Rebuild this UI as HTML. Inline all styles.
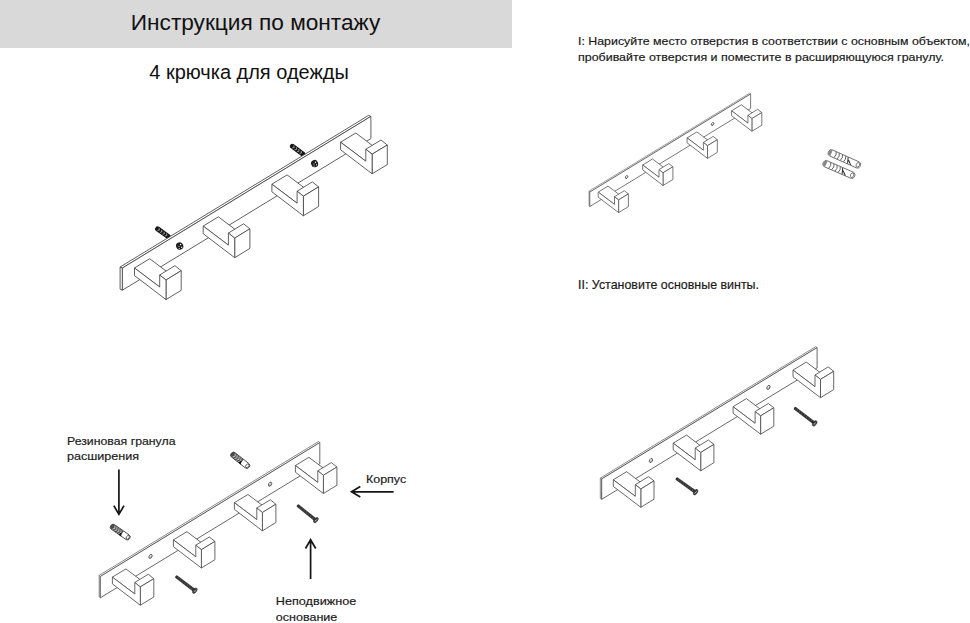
<!DOCTYPE html>
<html><head><meta charset="utf-8"><style>
html,body{margin:0;padding:0;background:#fff;width:970px;height:623px;overflow:hidden}
svg{display:block}
text{font-family:"Liberation Sans", sans-serif}
</style></head><body>
<svg width="970" height="623" viewBox="0 0 970 623">
<rect x="0" y="0" width="512" height="48" fill="#d9d9d9"/>
<text x="130.8" y="29.9" font-size="21.5" fill="#111" textLength="249.5" lengthAdjust="spacingAndGlyphs">Инструкция по монтажу</text>
<text x="149.3" y="78.7" font-size="19.3" fill="#111" textLength="199.5" lengthAdjust="spacingAndGlyphs">4 крючка для одежды</text>
<text x="578" y="45" font-size="11.0" fill="#1a1a1a" stroke="#1a1a1a" stroke-width="0.18" textLength="392" lengthAdjust="spacingAndGlyphs">I: Нарисуйте место отверстия в соответствии с основным объектом,</text>
<text x="578" y="61.2" font-size="11.0" fill="#1a1a1a" stroke="#1a1a1a" stroke-width="0.18" textLength="366" lengthAdjust="spacingAndGlyphs">пробивайте отверстия и поместите в расширяющуюся гранулу.</text>
<text x="578" y="288.6" font-size="11.9" fill="#1a1a1a" stroke="#1a1a1a" stroke-width="0.18" textLength="181" lengthAdjust="spacingAndGlyphs">II: Установите основные винты.</text>
<text x="67.0" y="444.6" font-size="11.4" fill="#1a1a1a" stroke="#1a1a1a" stroke-width="0.18" textLength="108.5" lengthAdjust="spacingAndGlyphs">Резиновая гранула</text>
<text x="67.0" y="460.4" font-size="11.4" fill="#1a1a1a" stroke="#1a1a1a" stroke-width="0.18" textLength="72.0" lengthAdjust="spacingAndGlyphs">расширения</text>
<text x="366.0" y="482.7" font-size="11.4" fill="#1a1a1a" stroke="#1a1a1a" stroke-width="0.18" textLength="40.2" lengthAdjust="spacingAndGlyphs">Корпус</text>
<text x="275.8" y="604.9" font-size="11.4" fill="#1a1a1a" stroke="#1a1a1a" stroke-width="0.18" textLength="80.5" lengthAdjust="spacingAndGlyphs">Неподвижное</text>
<text x="275.8" y="620.9" font-size="11.4" fill="#1a1a1a" stroke="#1a1a1a" stroke-width="0.18" textLength="61.5" lengthAdjust="spacingAndGlyphs">основание</text>
<path d="M118.9,469.6 L118.9,513.6 M113.8,505.6 L118.9,514.4 L124.0,505.6" stroke="#151515" stroke-width="1.7" fill="none" stroke-linecap="butt" stroke-linejoin="miter" stroke-miterlimit="6"/>
<path d="M310.6,579.0 L310.6,540.5 M315.7,548.5 L310.6,539.7 L305.5,548.5" stroke="#151515" stroke-width="1.7" fill="none" stroke-linecap="butt" stroke-linejoin="miter" stroke-miterlimit="6"/>
<path d="M393.6,491.8 L352.3,491.8 M360.3,486.6 L351.5,491.8 L360.3,496.9" stroke="#151515" stroke-width="1.7" fill="none" stroke-linecap="butt" stroke-linejoin="miter" stroke-miterlimit="6"/>
<g transform="translate(155.6,227.4) rotate(36.0)"><rect x="0" y="-2.5" width="18.0" height="5.0" rx="2.5" fill="#151515"/><path d="M3.2,-1.5 l1.5,1.5 l-1.5,1.5" stroke="#d8d8d8" stroke-width="0.6" fill="none"/><path d="M6.3,-1.5 l1.5,1.5 l-1.5,1.5" stroke="#d8d8d8" stroke-width="0.6" fill="none"/><path d="M9.4,-1.5 l1.5,1.5 l-1.5,1.5" stroke="#d8d8d8" stroke-width="0.6" fill="none"/><path d="M12.4,-1.5 l1.5,1.5 l-1.5,1.5" stroke="#d8d8d8" stroke-width="0.6" fill="none"/></g>
<g transform="translate(290.4,144.8) rotate(36.4)"><rect x="0" y="-2.5" width="17.9" height="5.0" rx="2.5" fill="#151515"/><path d="M3.2,-1.5 l1.5,1.5 l-1.5,1.5" stroke="#d8d8d8" stroke-width="0.6" fill="none"/><path d="M6.3,-1.5 l1.5,1.5 l-1.5,1.5" stroke="#d8d8d8" stroke-width="0.6" fill="none"/><path d="M9.3,-1.5 l1.5,1.5 l-1.5,1.5" stroke="#d8d8d8" stroke-width="0.6" fill="none"/><path d="M12.3,-1.5 l1.5,1.5 l-1.5,1.5" stroke="#d8d8d8" stroke-width="0.6" fill="none"/></g>
<polygon points="120.1,267.0 368.6,115.4 370.9,116.4 122.4,268.0" fill="#fff" stroke="#444" stroke-width="0.85" stroke-linejoin="round" />
<polygon points="120.1,267.0 122.4,268.0 122.4,290.2 120.1,289.2" fill="#fff" stroke="#444" stroke-width="0.85" stroke-linejoin="round" />
<polygon points="122.4,268.0 370.9,116.4 370.9,138.6 122.4,290.2" fill="#fff" stroke="#444" stroke-width="0.85" stroke-linejoin="round" />
<ellipse cx="179.7" cy="246.0" rx="3.60" ry="3.78" fill="#1c1c1c" transform="rotate(-20 179.7 246.0)"/><circle cx="180.60" cy="244.56" r="0.70" fill="#fff"/><circle cx="181.68" cy="247.26" r="0.65" fill="#fff"/><circle cx="178.98" cy="246.36" r="0.55" fill="#fff"/><circle cx="179.16" cy="248.52" r="0.50" fill="#fff"/>
<ellipse cx="314.6" cy="163.6" rx="3.50" ry="3.68" fill="#1c1c1c" transform="rotate(-20 314.6 163.6)"/><circle cx="315.48" cy="162.20" r="0.70" fill="#fff"/><circle cx="316.53" cy="164.82" r="0.65" fill="#fff"/><circle cx="313.90" cy="163.95" r="0.55" fill="#fff"/><circle cx="314.08" cy="166.05" r="0.50" fill="#fff"/>
<polygon points="134.5,268.0 149.7,258.7 174.9,277.7 159.7,287.0" fill="#fff" stroke="#444" stroke-width="0.85" stroke-linejoin="round" />
<polygon points="159.7,275.0 174.9,265.7 181.2,270.7 166.0,280.0" fill="#fff" stroke="#444" stroke-width="0.85" stroke-linejoin="round" />
<polygon points="166.0,280.0 181.2,270.7 181.2,290.3 166.0,299.6" fill="#fff" stroke="#444" stroke-width="0.85" stroke-linejoin="round" />
<polygon points="134.5,268.0 159.7,287.0 159.7,275.0 166.0,280.0 166.0,299.6 134.5,275.6" fill="#fff" stroke="#444" stroke-width="0.85" stroke-linejoin="round" />
<polygon points="203.2,226.1 218.4,216.8 243.6,235.8 228.4,245.1" fill="#fff" stroke="#444" stroke-width="0.85" stroke-linejoin="round" />
<polygon points="228.4,233.1 243.6,223.8 249.9,228.8 234.7,238.1" fill="#fff" stroke="#444" stroke-width="0.85" stroke-linejoin="round" />
<polygon points="234.7,238.1 249.9,228.8 249.9,248.4 234.7,257.7" fill="#fff" stroke="#444" stroke-width="0.85" stroke-linejoin="round" />
<polygon points="203.2,226.1 228.4,245.1 228.4,233.1 234.7,238.1 234.7,257.7 203.2,233.7" fill="#fff" stroke="#444" stroke-width="0.85" stroke-linejoin="round" />
<polygon points="271.9,184.2 287.1,174.9 312.3,193.9 297.1,203.2" fill="#fff" stroke="#444" stroke-width="0.85" stroke-linejoin="round" />
<polygon points="297.1,191.2 312.3,181.9 318.6,186.9 303.4,196.2" fill="#fff" stroke="#444" stroke-width="0.85" stroke-linejoin="round" />
<polygon points="303.4,196.2 318.6,186.9 318.6,206.5 303.4,215.8" fill="#fff" stroke="#444" stroke-width="0.85" stroke-linejoin="round" />
<polygon points="271.9,184.2 297.1,203.2 297.1,191.2 303.4,196.2 303.4,215.8 271.9,191.8" fill="#fff" stroke="#444" stroke-width="0.85" stroke-linejoin="round" />
<polygon points="340.6,142.2 355.8,133.0 381.0,152.0 365.8,161.2" fill="#fff" stroke="#444" stroke-width="0.85" stroke-linejoin="round" />
<polygon points="365.8,149.2 381.0,140.0 387.3,145.0 372.1,154.2" fill="#fff" stroke="#444" stroke-width="0.85" stroke-linejoin="round" />
<polygon points="372.1,154.2 387.3,145.0 387.3,164.6 372.1,173.8" fill="#fff" stroke="#444" stroke-width="0.85" stroke-linejoin="round" />
<polygon points="340.6,142.2 365.8,161.2 365.8,149.2 372.1,154.2 372.1,173.8 340.6,149.8" fill="#fff" stroke="#444" stroke-width="0.85" stroke-linejoin="round" />
<polygon points="589.0,191.1 749.8,93.1 750.6,94.0 589.8,192.1" fill="#fff" stroke="#888" stroke-width="0.80" stroke-linejoin="round" />
<polygon points="589.0,191.1 589.8,192.1 589.8,206.5 589.0,205.5" fill="#fff" stroke="#888" stroke-width="0.80" stroke-linejoin="round" />
<polygon points="589.8,192.1 750.6,94.0 750.6,108.4 589.8,206.5" fill="#fff" stroke="#555" stroke-width="0.80" stroke-linejoin="round" />
<g transform="rotate(-60 626.6 177.1)"><ellipse cx="626.6" cy="177.1" rx="1.6" ry="1.0" fill="#bbb" stroke="#444" stroke-width="0.8"/><ellipse cx="626.9" cy="176.8" rx="0.8" ry="0.5" fill="#f4f4f4"/></g>
<g transform="rotate(-60 712.6 124.0)"><ellipse cx="712.6" cy="124.0" rx="1.6" ry="1.0" fill="#bbb" stroke="#444" stroke-width="0.8"/><ellipse cx="712.9" cy="123.7" rx="0.8" ry="0.5" fill="#f4f4f4"/></g>
<polygon points="598.2,192.1 608.0,186.1 624.3,198.4 614.5,204.4" fill="#fff" stroke="#555" stroke-width="0.80" stroke-linejoin="round" />
<polygon points="614.5,196.7 624.3,190.7 628.4,193.9 618.6,199.9" fill="#fff" stroke="#555" stroke-width="0.80" stroke-linejoin="round" />
<polygon points="618.6,199.9 628.4,193.9 628.4,206.6 618.6,212.6" fill="#fff" stroke="#555" stroke-width="0.80" stroke-linejoin="round" />
<polygon points="598.2,192.1 614.5,204.4 614.5,196.7 618.6,199.9 618.6,212.6 598.2,197.1" fill="#fff" stroke="#555" stroke-width="0.80" stroke-linejoin="round" />
<polygon points="642.7,165.0 652.5,159.0 668.8,171.3 659.0,177.3" fill="#fff" stroke="#555" stroke-width="0.80" stroke-linejoin="round" />
<polygon points="659.0,169.6 668.8,163.6 672.9,166.8 663.0,172.8" fill="#fff" stroke="#555" stroke-width="0.80" stroke-linejoin="round" />
<polygon points="663.0,172.8 672.9,166.8 672.9,179.5 663.0,185.5" fill="#fff" stroke="#555" stroke-width="0.80" stroke-linejoin="round" />
<polygon points="642.7,165.0 659.0,177.3 659.0,169.6 663.0,172.8 663.0,185.5 642.7,169.9" fill="#fff" stroke="#555" stroke-width="0.80" stroke-linejoin="round" />
<polygon points="687.1,137.9 696.9,131.9 713.2,144.2 703.4,150.2" fill="#fff" stroke="#555" stroke-width="0.80" stroke-linejoin="round" />
<polygon points="703.4,142.4 713.2,136.4 717.3,139.7 707.5,145.7" fill="#fff" stroke="#555" stroke-width="0.80" stroke-linejoin="round" />
<polygon points="707.5,145.7 717.3,139.7 717.3,152.4 707.5,158.4" fill="#fff" stroke="#555" stroke-width="0.80" stroke-linejoin="round" />
<polygon points="687.1,137.9 703.4,150.2 703.4,142.4 707.5,145.7 707.5,158.4 687.1,142.8" fill="#fff" stroke="#555" stroke-width="0.80" stroke-linejoin="round" />
<polygon points="731.6,110.8 741.4,104.8 757.7,117.1 747.9,123.1" fill="#fff" stroke="#555" stroke-width="0.80" stroke-linejoin="round" />
<polygon points="747.9,115.3 757.7,109.3 761.8,112.6 751.9,118.6" fill="#fff" stroke="#555" stroke-width="0.80" stroke-linejoin="round" />
<polygon points="751.9,118.6 761.8,112.6 761.8,125.3 751.9,131.2" fill="#fff" stroke="#555" stroke-width="0.80" stroke-linejoin="round" />
<polygon points="731.6,110.8 747.9,123.1 747.9,115.3 751.9,118.6 751.9,131.2 731.6,115.7" fill="#fff" stroke="#555" stroke-width="0.80" stroke-linejoin="round" />
<g transform="translate(828.5,151.8) rotate(24.1)"><rect x="0" y="-3.3" width="34.8" height="6.6" rx="2.8" fill="#fff" stroke="#555" stroke-width="0.75"/><path d="M3.3,-3.1 A3.3,3.1 0 0 0 3.3,3.1" fill="#888"/><path d="M7.0,-3.2 q2.0,2.6 0.3,6.3" stroke="#555" stroke-width="0.83" fill="none"/><path d="M10.4,-3.2 q2.0,2.6 0.3,6.3" stroke="#555" stroke-width="0.83" fill="none"/><path d="M13.9,-3.2 q2.0,2.6 0.3,6.3" stroke="#555" stroke-width="0.83" fill="none"/><path d="M17.4,-3.2 q2.0,2.6 0.3,6.3" stroke="#555" stroke-width="0.83" fill="none"/><path d="M20.2,-3.0 l2.0,5.9 M21.6,-0.7 l4.0,3.6" stroke="#333" stroke-width="1.05" fill="none"/><ellipse cx="32.1" cy="0" rx="1.6" ry="2.4" fill="none" stroke="#555" stroke-width="0.75"/></g>
<g transform="translate(823.3,162.7) rotate(23.5)"><rect x="0" y="-3.3" width="34.1" height="6.6" rx="2.8" fill="#fff" stroke="#555" stroke-width="0.75"/><path d="M3.3,-3.1 A3.3,3.1 0 0 0 3.3,3.1" fill="#888"/><path d="M6.8,-3.2 q2.0,2.6 0.3,6.3" stroke="#555" stroke-width="0.83" fill="none"/><path d="M10.2,-3.2 q2.0,2.6 0.3,6.3" stroke="#555" stroke-width="0.83" fill="none"/><path d="M13.7,-3.2 q2.0,2.6 0.3,6.3" stroke="#555" stroke-width="0.83" fill="none"/><path d="M17.1,-3.2 q2.0,2.6 0.3,6.3" stroke="#555" stroke-width="0.83" fill="none"/><path d="M19.8,-3.0 l2.0,5.9 M21.2,-0.7 l4.0,3.6" stroke="#333" stroke-width="1.05" fill="none"/><ellipse cx="31.4" cy="0" rx="1.6" ry="2.4" fill="none" stroke="#555" stroke-width="0.75"/></g>
<g transform="translate(231.4,453.4) rotate(38.1)"><rect x="0" y="-2.8" width="22.4" height="5.6" rx="2.5" fill="#fff" stroke="#333" stroke-width="0.8"/><path d="M2.5,-2.8 L13.4,-2.5 L13.4,2.8 L2.5,2.8 A2.8,2.8 0 0 1 2.5,-2.8 Z" fill="#4a4a4a"/><path d="M3.1,-2.1 l1.6,2.1 l-1.6,2.1" stroke="#e8e8e8" stroke-width="0.73" fill="none"/><path d="M5.6,-2.1 l1.6,2.1 l-1.6,2.1" stroke="#e8e8e8" stroke-width="0.73" fill="none"/><path d="M8.1,-2.1 l1.6,2.1 l-1.6,2.1" stroke="#e8e8e8" stroke-width="0.73" fill="none"/><path d="M10.5,-2.1 l1.6,2.1 l-1.6,2.1" stroke="#e8e8e8" stroke-width="0.73" fill="none"/><path d="M12.3,-0.6 L14.3,3.1 L11.2,2.8 Z" fill="#111"/><ellipse cx="20.1" cy="0" rx="1.4" ry="2.0" fill="none" stroke="#444" stroke-width="0.8"/></g>
<polygon points="99.2,575.3 318.7,441.4 319.8,442.6 100.3,576.5" fill="#fff" stroke="#777" stroke-width="0.85" stroke-linejoin="round" />
<polygon points="99.2,575.3 100.3,576.5 100.3,597.8 99.2,596.6" fill="#fff" stroke="#777" stroke-width="0.85" stroke-linejoin="round" />
<polygon points="100.3,576.5 319.8,442.6 319.8,463.9 100.3,597.8" fill="#fff" stroke="#4d4d4d" stroke-width="0.85" stroke-linejoin="round" />
<g transform="rotate(-60 150.5 556.4)"><ellipse cx="150.5" cy="556.4" rx="2.2" ry="1.4" fill="#bbb" stroke="#444" stroke-width="0.8"/><ellipse cx="150.8" cy="556.1" rx="1.1" ry="0.6" fill="#f4f4f4"/></g>
<g transform="rotate(-60 270.1 484.2)"><ellipse cx="270.1" cy="484.2" rx="2.2" ry="1.4" fill="#bbb" stroke="#444" stroke-width="0.8"/><ellipse cx="270.4" cy="483.9" rx="1.1" ry="0.6" fill="#f4f4f4"/></g>
<polygon points="112.4,577.1 125.9,568.9 148.3,585.8 134.8,594.0" fill="#fff" stroke="#4d4d4d" stroke-width="0.85" stroke-linejoin="round" />
<polygon points="134.8,582.5 148.3,574.2 153.8,578.7 140.3,586.9" fill="#fff" stroke="#4d4d4d" stroke-width="0.85" stroke-linejoin="round" />
<polygon points="140.3,586.9 153.8,578.7 153.8,597.0 140.3,605.2" fill="#fff" stroke="#4d4d4d" stroke-width="0.85" stroke-linejoin="round" />
<polygon points="112.4,577.1 134.8,594.0 134.8,582.5 140.3,586.9 140.3,605.2 112.4,583.9" fill="#fff" stroke="#4d4d4d" stroke-width="0.85" stroke-linejoin="round" />
<polygon points="173.4,539.9 186.9,531.7 209.3,548.6 195.8,556.8" fill="#fff" stroke="#4d4d4d" stroke-width="0.85" stroke-linejoin="round" />
<polygon points="195.8,545.2 209.3,537.0 214.9,541.4 201.4,549.7" fill="#fff" stroke="#4d4d4d" stroke-width="0.85" stroke-linejoin="round" />
<polygon points="201.4,549.7 214.9,541.4 214.9,559.7 201.4,568.0" fill="#fff" stroke="#4d4d4d" stroke-width="0.85" stroke-linejoin="round" />
<polygon points="173.4,539.9 195.8,556.8 195.8,545.2 201.4,549.7 201.4,568.0 173.4,546.7" fill="#fff" stroke="#4d4d4d" stroke-width="0.85" stroke-linejoin="round" />
<polygon points="234.4,502.7 247.9,494.5 270.3,511.3 256.8,519.6" fill="#fff" stroke="#4d4d4d" stroke-width="0.85" stroke-linejoin="round" />
<polygon points="256.8,508.0 270.3,499.8 275.9,504.2 262.4,512.5" fill="#fff" stroke="#4d4d4d" stroke-width="0.85" stroke-linejoin="round" />
<polygon points="262.4,512.5 275.9,504.2 275.9,522.5 262.4,530.8" fill="#fff" stroke="#4d4d4d" stroke-width="0.85" stroke-linejoin="round" />
<polygon points="234.4,502.7 256.8,519.6 256.8,508.0 262.4,512.5 262.4,530.8 234.4,509.4" fill="#fff" stroke="#4d4d4d" stroke-width="0.85" stroke-linejoin="round" />
<polygon points="295.4,465.5 308.9,457.3 331.3,474.1 317.8,482.4" fill="#fff" stroke="#4d4d4d" stroke-width="0.85" stroke-linejoin="round" />
<polygon points="317.8,470.8 331.3,462.6 336.9,467.0 323.4,475.3" fill="#fff" stroke="#4d4d4d" stroke-width="0.85" stroke-linejoin="round" />
<polygon points="323.4,475.3 336.9,467.0 336.9,485.3 323.4,493.5" fill="#fff" stroke="#4d4d4d" stroke-width="0.85" stroke-linejoin="round" />
<polygon points="295.4,465.5 317.8,482.4 317.8,470.8 323.4,475.3 323.4,493.5 295.4,472.2" fill="#fff" stroke="#4d4d4d" stroke-width="0.85" stroke-linejoin="round" />
<g transform="translate(111.0,525.6) rotate(35.0)"><rect x="0" y="-2.8" width="22.7" height="5.6" rx="2.5" fill="#fff" stroke="#333" stroke-width="0.8"/><path d="M2.5,-2.8 L13.6,-2.5 L13.6,2.8 L2.5,2.8 A2.8,2.8 0 0 1 2.5,-2.8 Z" fill="#4a4a4a"/><path d="M3.2,-2.1 l1.6,2.1 l-1.6,2.1" stroke="#e8e8e8" stroke-width="0.73" fill="none"/><path d="M5.7,-2.1 l1.6,2.1 l-1.6,2.1" stroke="#e8e8e8" stroke-width="0.73" fill="none"/><path d="M8.2,-2.1 l1.6,2.1 l-1.6,2.1" stroke="#e8e8e8" stroke-width="0.73" fill="none"/><path d="M10.7,-2.1 l1.6,2.1 l-1.6,2.1" stroke="#e8e8e8" stroke-width="0.73" fill="none"/><path d="M12.5,-0.6 L14.5,3.1 L11.3,2.8 Z" fill="#111"/><ellipse cx="20.5" cy="0" rx="1.4" ry="2.0" fill="none" stroke="#444" stroke-width="0.8"/></g>
<g transform="translate(175.4,576.0) rotate(37.1)"><path d="M0.8,-1.5 Q-0.6,0 0.8,1.5 L24.2,1.7 L24.2,-1.7 Z" fill="#333"/><line x1="3.1" y1="-1.4" x2="4.0" y2="1.4" stroke="#777" stroke-width="0.4"/><line x1="5.9" y1="-1.4" x2="6.8" y2="1.4" stroke="#777" stroke-width="0.4"/><line x1="8.8" y1="-1.4" x2="9.7" y2="1.4" stroke="#777" stroke-width="0.4"/><line x1="11.6" y1="-1.4" x2="12.5" y2="1.4" stroke="#777" stroke-width="0.4"/><line x1="14.5" y1="-1.4" x2="15.4" y2="1.4" stroke="#777" stroke-width="0.4"/><line x1="17.3" y1="-1.4" x2="18.2" y2="1.4" stroke="#777" stroke-width="0.4"/><line x1="20.2" y1="-1.4" x2="21.1" y2="1.4" stroke="#777" stroke-width="0.4"/><ellipse cx="24.4" cy="0" rx="1.7" ry="3.1" fill="#3a3a3a" stroke="#222" stroke-width="0.5"/><path d="M24.9,-2.0 L24.3,2.0 M23.6,0.3 L25.3,0.6" stroke="#ccc" stroke-width="0.55"/></g>
<g transform="translate(297.0,505.0) rotate(38.7)"><path d="M0.8,-1.5 Q-0.6,0 0.8,1.5 L24.0,1.7 L24.0,-1.7 Z" fill="#333"/><line x1="3.1" y1="-1.4" x2="4.0" y2="1.4" stroke="#777" stroke-width="0.4"/><line x1="5.9" y1="-1.4" x2="6.8" y2="1.4" stroke="#777" stroke-width="0.4"/><line x1="8.7" y1="-1.4" x2="9.6" y2="1.4" stroke="#777" stroke-width="0.4"/><line x1="11.5" y1="-1.4" x2="12.4" y2="1.4" stroke="#777" stroke-width="0.4"/><line x1="14.3" y1="-1.4" x2="15.2" y2="1.4" stroke="#777" stroke-width="0.4"/><line x1="17.2" y1="-1.4" x2="18.1" y2="1.4" stroke="#777" stroke-width="0.4"/><line x1="20.0" y1="-1.4" x2="20.9" y2="1.4" stroke="#777" stroke-width="0.4"/><ellipse cx="24.2" cy="0" rx="1.7" ry="3.1" fill="#3a3a3a" stroke="#222" stroke-width="0.5"/><path d="M24.7,-2.0 L24.1,2.0 M23.4,0.3 L25.1,0.6" stroke="#ccc" stroke-width="0.55"/></g>
<polygon points="600.3,478.1 815.7,346.7 817.1,347.6 601.7,479.0" fill="#fff" stroke="#777" stroke-width="0.85" stroke-linejoin="round" />
<polygon points="600.3,478.1 601.7,479.0 601.7,499.3 600.3,498.4" fill="#fff" stroke="#777" stroke-width="0.85" stroke-linejoin="round" />
<polygon points="601.7,479.0 817.1,347.6 817.1,367.9 601.7,499.3" fill="#fff" stroke="#4d4d4d" stroke-width="0.85" stroke-linejoin="round" />
<g transform="rotate(-60 651.0 460.5)"><ellipse cx="651.0" cy="460.5" rx="2.2" ry="1.4" fill="#bbb" stroke="#444" stroke-width="0.8"/><ellipse cx="651.3" cy="460.2" rx="1.1" ry="0.6" fill="#f4f4f4"/></g>
<g transform="rotate(-60 768.4 387.4)"><ellipse cx="768.4" cy="387.4" rx="2.2" ry="1.4" fill="#bbb" stroke="#444" stroke-width="0.8"/><ellipse cx="768.7" cy="387.1" rx="1.1" ry="0.6" fill="#f4f4f4"/></g>
<polygon points="613.3,479.8 626.6,471.7 648.5,488.3 635.3,496.3" fill="#fff" stroke="#4d4d4d" stroke-width="0.85" stroke-linejoin="round" />
<polygon points="635.3,484.7 648.5,476.6 654.0,480.9 640.8,489.0" fill="#fff" stroke="#4d4d4d" stroke-width="0.85" stroke-linejoin="round" />
<polygon points="640.8,489.0 654.0,480.9 654.0,499.2 640.8,507.3" fill="#fff" stroke="#4d4d4d" stroke-width="0.85" stroke-linejoin="round" />
<polygon points="613.3,479.8 635.3,496.3 635.3,484.7 640.8,489.0 640.8,507.3 613.3,486.4" fill="#fff" stroke="#4d4d4d" stroke-width="0.85" stroke-linejoin="round" />
<polygon points="673.2,443.2 686.5,435.1 708.4,451.7 695.2,459.8" fill="#fff" stroke="#4d4d4d" stroke-width="0.85" stroke-linejoin="round" />
<polygon points="695.2,448.1 708.4,440.0 713.9,444.4 700.7,452.5" fill="#fff" stroke="#4d4d4d" stroke-width="0.85" stroke-linejoin="round" />
<polygon points="700.7,452.5 713.9,444.4 713.9,462.7 700.7,470.8" fill="#fff" stroke="#4d4d4d" stroke-width="0.85" stroke-linejoin="round" />
<polygon points="673.2,443.2 695.2,459.8 695.2,448.1 700.7,452.5 700.7,470.8 673.2,449.9" fill="#fff" stroke="#4d4d4d" stroke-width="0.85" stroke-linejoin="round" />
<polygon points="733.1,406.7 746.4,398.6 768.3,415.2 755.1,423.3" fill="#fff" stroke="#4d4d4d" stroke-width="0.85" stroke-linejoin="round" />
<polygon points="755.1,411.6 768.3,403.5 773.8,407.8 760.6,415.9" fill="#fff" stroke="#4d4d4d" stroke-width="0.85" stroke-linejoin="round" />
<polygon points="760.6,415.9 773.8,407.8 773.8,426.2 760.6,434.2" fill="#fff" stroke="#4d4d4d" stroke-width="0.85" stroke-linejoin="round" />
<polygon points="733.1,406.7 755.1,423.3 755.1,411.6 760.6,415.9 760.6,434.2 733.1,413.3" fill="#fff" stroke="#4d4d4d" stroke-width="0.85" stroke-linejoin="round" />
<polygon points="793.0,370.1 806.3,362.1 828.2,378.6 815.0,386.7" fill="#fff" stroke="#4d4d4d" stroke-width="0.85" stroke-linejoin="round" />
<polygon points="815.0,375.0 828.2,366.9 833.7,371.3 820.5,379.4" fill="#fff" stroke="#4d4d4d" stroke-width="0.85" stroke-linejoin="round" />
<polygon points="820.5,379.4 833.7,371.3 833.7,389.6 820.5,397.7" fill="#fff" stroke="#4d4d4d" stroke-width="0.85" stroke-linejoin="round" />
<polygon points="793.0,370.1 815.0,386.7 815.0,375.0 820.5,379.4 820.5,397.7 793.0,376.8" fill="#fff" stroke="#4d4d4d" stroke-width="0.85" stroke-linejoin="round" />
<g transform="translate(675.8,478.0) rotate(35.5)"><path d="M0.8,-1.5 Q-0.6,0 0.8,1.5 L24.2,1.7 L24.2,-1.7 Z" fill="#333"/><line x1="3.1" y1="-1.4" x2="4.0" y2="1.4" stroke="#777" stroke-width="0.4"/><line x1="5.9" y1="-1.4" x2="6.8" y2="1.4" stroke="#777" stroke-width="0.4"/><line x1="8.8" y1="-1.4" x2="9.7" y2="1.4" stroke="#777" stroke-width="0.4"/><line x1="11.6" y1="-1.4" x2="12.5" y2="1.4" stroke="#777" stroke-width="0.4"/><line x1="14.5" y1="-1.4" x2="15.4" y2="1.4" stroke="#777" stroke-width="0.4"/><line x1="17.3" y1="-1.4" x2="18.2" y2="1.4" stroke="#777" stroke-width="0.4"/><line x1="20.1" y1="-1.4" x2="21.0" y2="1.4" stroke="#777" stroke-width="0.4"/><ellipse cx="24.4" cy="0" rx="1.7" ry="3.1" fill="#3a3a3a" stroke="#222" stroke-width="0.5"/><path d="M24.9,-2.0 L24.3,2.0 M23.6,0.3 L25.3,0.6" stroke="#ccc" stroke-width="0.55"/></g>
<g transform="translate(794.0,407.5) rotate(37.5)"><path d="M0.8,-1.5 Q-0.6,0 0.8,1.5 L25.9,1.7 L25.9,-1.7 Z" fill="#333"/><line x1="3.3" y1="-1.4" x2="4.2" y2="1.4" stroke="#777" stroke-width="0.4"/><line x1="6.3" y1="-1.4" x2="7.2" y2="1.4" stroke="#777" stroke-width="0.4"/><line x1="9.3" y1="-1.4" x2="10.2" y2="1.4" stroke="#777" stroke-width="0.4"/><line x1="12.4" y1="-1.4" x2="13.3" y2="1.4" stroke="#777" stroke-width="0.4"/><line x1="15.4" y1="-1.4" x2="16.3" y2="1.4" stroke="#777" stroke-width="0.4"/><line x1="18.4" y1="-1.4" x2="19.3" y2="1.4" stroke="#777" stroke-width="0.4"/><line x1="21.4" y1="-1.4" x2="22.3" y2="1.4" stroke="#777" stroke-width="0.4"/><ellipse cx="26.1" cy="0" rx="1.7" ry="3.1" fill="#3a3a3a" stroke="#222" stroke-width="0.5"/><path d="M26.6,-2.0 L26.0,2.0 M25.3,0.3 L27.0,0.6" stroke="#ccc" stroke-width="0.55"/></g>
</svg>
</body></html>
